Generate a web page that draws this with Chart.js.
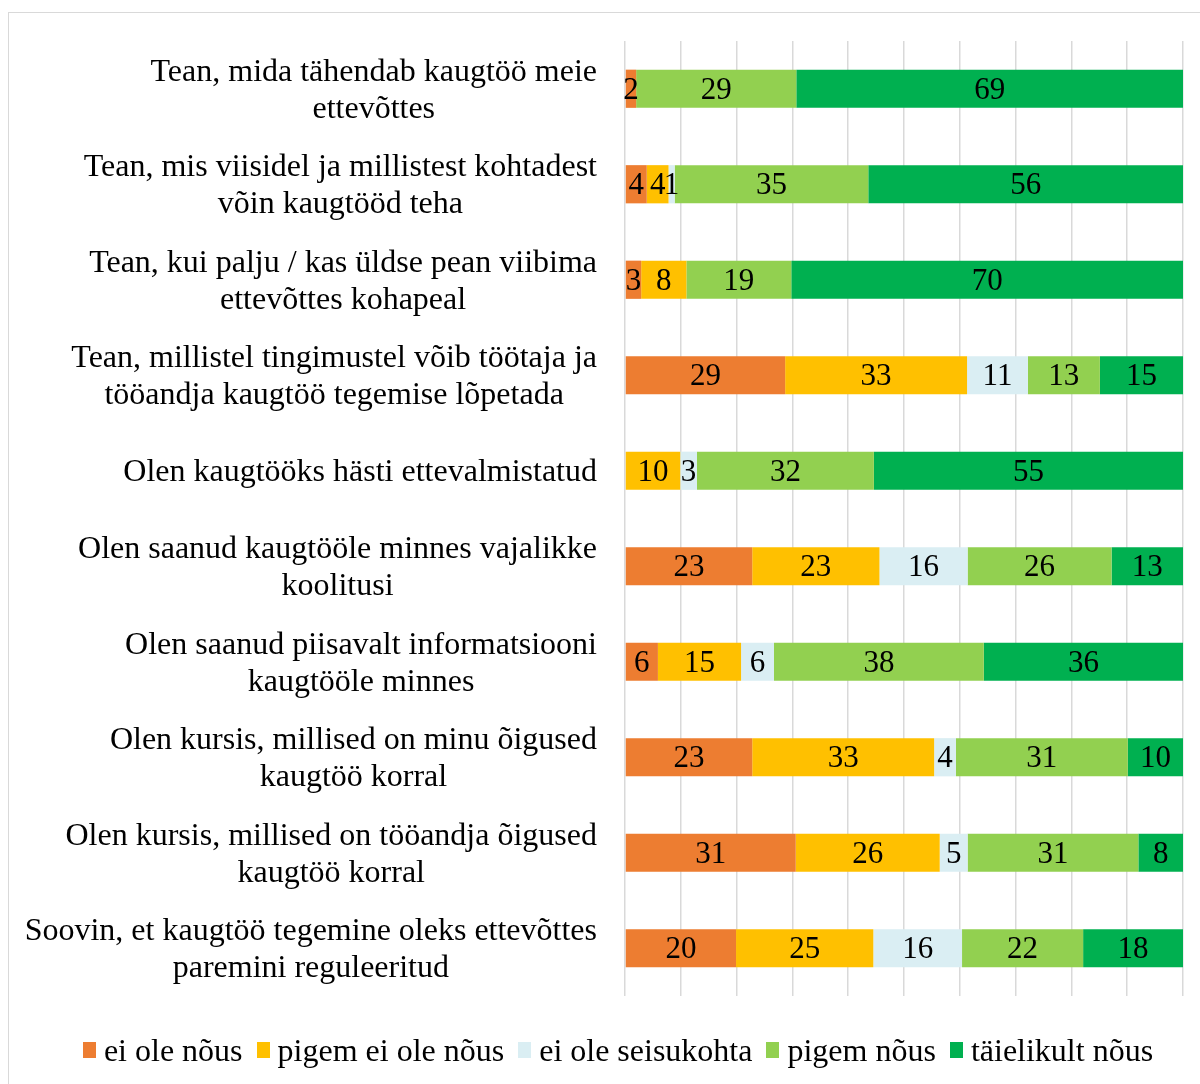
<!DOCTYPE html>
<html>
<head>
<meta charset="utf-8">
<script src="https://cdn.jsdelivr.net/npm/chart.js@4"></script>
<style>
  body { margin: 0; background: #fff; overflow: hidden; }
  .frame { position: absolute; left: 8px; top: 12px; width: 1300px; height: 1200px; border: 1.5px solid #d9d9d9; }
  .wrap { position: absolute; left: 0; top: 0; width: 1200px; height: 1084px; }
  #legend {
    position: absolute; left: 0; top: 1032px; width: 1236px; height: 36px;
    display: flex; justify-content: center; align-items: center;
    font: 32px 'Liberation Serif', 'Times New Roman', serif; color: #000; white-space: nowrap;
  }
  #legend .item { display: flex; align-items: center; margin: 0 7px; }
  #legend .box { width: 13px; height: 16px; margin-right: 8px; }
</style>
</head>
<body>
<div class="frame"></div>
<div class="wrap"><canvas id="chart" width="1200" height="1084"></canvas></div>
<div id="legend"></div>
<script>
// Categories (y axis, top to bottom)
const categories = [
  ["Tean, mida tähendab kaugtöö meie", "ettevõttes"],
  ["Tean, mis viisidel ja millistest kohtadest", "võin kaugtööd teha"],
  ["Tean, kui palju / kas üldse pean viibima", "ettevõttes kohapeal"],
  ["Tean, millistel tingimustel võib töötaja ja", "tööandja kaugtöö tegemise lõpetada"],
  ["Olen kaugtööks hästi ettevalmistatud"],
  ["Olen saanud kaugtööle minnes vajalikke", "koolitusi"],
  ["Olen saanud piisavalt informatsiooni", "kaugtööle minnes"],
  ["Olen kursis, millised on minu õigused", "kaugtöö korral"],
  ["Olen kursis, millised on tööandja õigused", "kaugtöö korral"],
  ["Soovin, et kaugtöö tegemine oleks ettevõttes", "paremini reguleeritud"],
];

// Series (percent)
const eiOleNous = [2.0, 3.9, 2.9, 28.7, 0, 22.8, 5.9, 22.8, 30.6, 19.9];
const pigemEiOleNous = [0, 3.9, 8.1, 32.6, 9.9, 22.8, 14.9, 32.6, 25.8, 24.6];
const eiOleSeisukohta = [0, 1.1, 0, 10.9, 3.0, 15.8, 5.9, 3.9, 5.0, 15.9];
const pigemNous = [28.7, 34.7, 18.8, 12.9, 31.7, 25.8, 37.6, 30.8, 30.6, 21.7];
const taielikultNous = [69.3, 56.4, 70.2, 14.9, 55.4, 12.8, 35.7, 9.9, 8.0, 17.9];

const seriesNames = ["ei ole nõus", "pigem ei ole nõus", "ei ole seisukohta", "pigem nõus", "täielikult nõus"];
const seriesColors = ["#ED7D31", "#FFC000", "#DAEEF3", "#92D050", "#00B050"];

const FONT = "'Liberation Serif', 'Times New Roman', serif";

// values written in the middle of each bar segment
const barLabels = {
  id: "barLabels",
  afterDatasetsDraw(chart) {
    const ctx = chart.ctx;
    ctx.save();
    ctx.font = "31px " + FONT;
    ctx.fillStyle = "#000";
    ctx.textAlign = "center";
    ctx.textBaseline = "middle";
    chart.data.datasets.forEach((ds, i) => {
      chart.getDatasetMeta(i).data.forEach((bar, j) => {
        const v = ds.data[j];
        if (!v) return;
        ctx.fillText(Math.round(v), (bar.x + bar.base) / 2, bar.y + 2);
      });
    });
    ctx.restore();
  },
};

// category labels: block right-aligned to the axis, lines centred inside it
const catLabels = {
  id: "catLabels",
  afterDraw(chart) {
    const ctx = chart.ctx;
    const y = chart.scales.y;
    const right = chart.chartArea.left - 28;
    ctx.save();
    ctx.font = "32px " + FONT;
    ctx.fillStyle = "#000";
    ctx.textAlign = "center";
    ctx.textBaseline = "middle";
    chart.data.labels.forEach((lines, i) => {
      const cy = y.getPixelForTick(i) + 2;
      const w = Math.max(...lines.map((l) => ctx.measureText(l).width));
      const cx = right - w / 2;
      lines.forEach((l, k) => {
        ctx.fillText(l, cx, cy + (k - (lines.length - 1) / 2) * 37);
      });
    });
    ctx.restore();
  },
};

const allSeries = [eiOleNous, pigemEiOleNous, eiOleSeisukohta, pigemNous, taielikultNous];

new Chart(document.getElementById("chart"), {
  type: "bar",
  data: {
    labels: categories,
    datasets: allSeries.map((d, i) => ({
      label: seriesNames[i],
      data: d,
      backgroundColor: seriesColors[i],
      borderWidth: 0,
      barPercentage: 0.4,
      categoryPercentage: 1,
    })),
  },
  options: {
    indexAxis: "y",
    responsive: false,
    animation: false,
    devicePixelRatio: 1,
    layout: { padding: { top: 41, right: 17, bottom: 88, left: 0 } },
    scales: {
      x: {
        stacked: true,
        min: 0,
        max: 100,
        ticks: { display: false, stepSize: 10 },
        grid: { color: "#d9d9d9", lineWidth: 1.5, drawTicks: false },
        border: { display: false },
        afterFit(scale) { scale.height = 0; },
      },
      y: {
        stacked: true,
        ticks: { display: false },
        grid: { display: false },
        border: { display: false },
        afterFit(scale) { scale.width = 625; },
      },
    },
    plugins: {
      legend: { display: false },
      tooltip: { enabled: false },
    },
  },
  plugins: [barLabels, catLabels],
});

// legend
const legend = document.getElementById("legend");
seriesNames.forEach((name, i) => {
  const item = document.createElement("span");
  item.className = "item";
  const box = document.createElement("span");
  box.className = "box";
  box.style.background = seriesColors[i];
  item.appendChild(box);
  item.appendChild(document.createTextNode(name));
  legend.appendChild(item);
});
</script>
</body>
</html>
